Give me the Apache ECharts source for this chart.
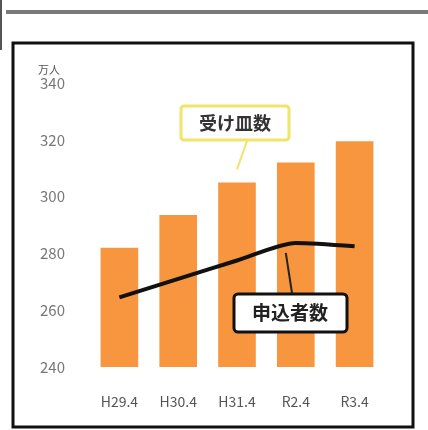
<!DOCTYPE html>
<html><head><meta charset="utf-8">
<script src="https://cdn.jsdelivr.net/npm/echarts@6/dist/echarts.min.js"></script>
<style>html,body{margin:0;padding:0;background:#fff}#c{width:428px;height:430px}</style>
</head><body><div id="c"></div>
<script>
const categories = ['H29.4','H30.4','H31.4','R2.4','R3.4'];
const capacity = [282, 293.5, 305, 312, 319.5];   // 受け皿数
const applicants = [264.5, 271, 277.5, 283.7, 282.5]; // 申込者数
const yTicks = [240, 260, 280, 300, 320, 340];

const chart = echarts.init(document.getElementById('c'));
const font = '"Noto Sans CJK JP","Noto Sans",sans-serif';
chart.setOption({
  animation: false,
  backgroundColor: '#fff',
  grid: {left: 90, right: 44, top: 83, bottom: 63},
  xAxis: {
    type: 'category', data: categories,
    axisLine: {show: false}, axisTick: {show: false},
    axisLabel: {color: '#555', fontSize: 14, fontFamily: font, margin: 28, interval: 0}
  },
  yAxis: {
    type: 'value', min: yTicks[0], max: yTicks[yTicks.length-1], interval: 20,
    name: '万人', nameGap: 4, nameLocation: 'end',
    nameTextStyle: {color: '#555', fontSize: 11, fontFamily: font, align: 'left', padding: [0,0,0,-52]},
    splitLine: {show: false}, axisLine: {show: false}, axisTick: {show: false},
    axisLabel: {color: '#777', fontSize: 15, fontFamily: font, margin: 25}
  },
  series: [
    {type: 'bar', data: capacity, barWidth: '64%', itemStyle: {color: '#f7963f'}, z: 2},
    {type: 'line', data: applicants, symbol: 'none', smooth: 0.25,
     lineStyle: {color: '#111', width: 4}, z: 3}
  ]
});

const p3 = chart.convertToPixel({seriesIndex: 0}, [2, capacity[2]]);
const p4 = chart.convertToPixel({seriesIndex: 1}, [3, applicants[3]]);

chart.setOption({
  graphic: [
    {type: 'rect', shape: {x: 6, y: 10, width: 422, height: 4}, style: {fill: '#7a7a7a'}},
    {type: 'rect', shape: {x: 0, y: 0, width: 2, height: 50}, style: {fill: '#555'}},
    {type: 'rect', shape: {x: 13, y: 43, width: 400, height: 384},
     style: {fill: 'none', stroke: '#111', lineWidth: 3}, z: 1},
    {type: 'line', shape: {x1: p3[0], y1: p3[1] - 13, x2: 247, y2: 141},
     style: {stroke: '#f3e36a', lineWidth: 2}, z: 10},
    {type: 'rect', shape: {x: 181, y: 106, width: 108, height: 34, r: 3},
     style: {fill: '#fff', stroke: '#f0e46a', lineWidth: 3}, z: 10},
    {type: 'text', x: 235, y: 123, z: 11,
     style: {text: '受け皿数', fill: '#333', font: 'bold 18px "Noto Sans CJK JP"', align: 'center', verticalAlign: 'middle'}},
    {type: 'line', shape: {x1: p4[0] - 10, y1: p4[1] + 10, x2: 292, y2: 293},
     style: {stroke: '#222', lineWidth: 2}, z: 10},
    {type: 'rect', shape: {x: 234, y: 294, width: 113, height: 38, r: 4},
     style: {fill: '#fff', stroke: '#111', lineWidth: 3}, z: 10},
    {type: 'text', x: 290, y: 313, z: 11,
     style: {text: '申込者数', fill: '#222', font: 'bold 19px "Noto Sans CJK JP"', align: 'center', verticalAlign: 'middle'}}
  ]
});
</script></body></html>
